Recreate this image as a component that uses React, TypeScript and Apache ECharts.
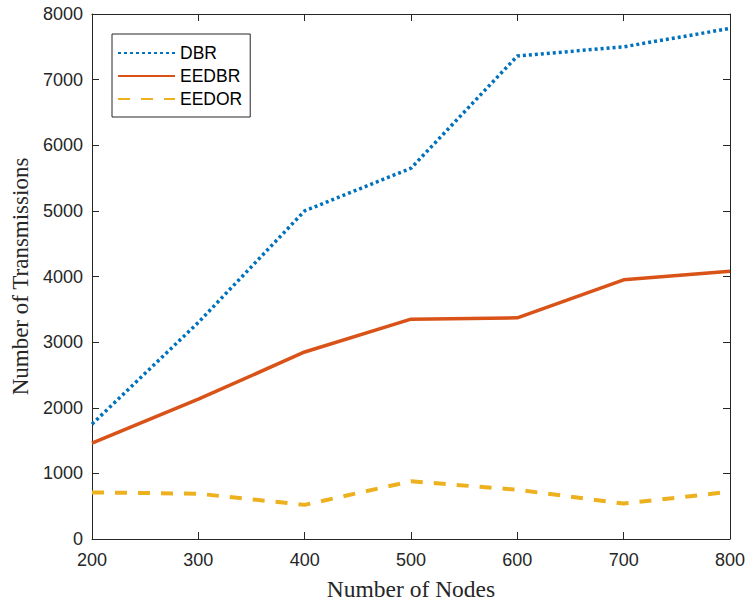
import React, { useEffect, useRef } from "react";
import * as echarts from "echarts";

const nodes = [200, 300, 400, 500, 600, 700, 800];
const dbr = [1750, 3300, 5000, 5650, 7360, 7500, 7780];
const eedbr = [1460, 2130, 2850, 3350, 3370, 3950, 4080];
const eedor = [710, 690, 520, 880, 750, 540, 720];
const seriesNames = ["DBR", "EEDBR", "EEDOR"];

export default function App() {
  const ref = useRef<HTMLDivElement>(null);
  useEffect(() => {
    document.body.style.margin = "0";
    const chart = echarts.init(ref.current!, undefined, { renderer: "svg" });
    const tickFont = { fontFamily: "Liberation Sans, Arial", fontSize: 18, color: "#262626" };
    const axisLine = { show: true, onZero: false, lineStyle: { color: "#262626", width: 1 } };
    const tick = { show: true, inside: true, length: 7, lineStyle: { color: "#262626" } };
    const mk = (d: number[]) => nodes.map((n, i) => [n, d[i]]);
    chart.setOption({
      animation: false,
      backgroundColor: "#fff",
      grid: { left: 92, right: 19, top: 14, bottom: 66, containLabel: false, outerBoundsMode: "none" },
      legend: {
        left: 112,
        top: 34,
        orient: "vertical",
        data: seriesNames,
        itemWidth: 57,
        itemHeight: 14,
        itemGap: 5,
        padding: [10, 8, 9, 5],
        borderColor: "#262626",
        borderWidth: 1,
        backgroundColor: "#fff",
        itemStyle: { opacity: 0 },
        textStyle: { fontFamily: "Liberation Sans, Arial", fontSize: 17.5, color: "#000", padding: [0, 0, 0, 0] },
      },
      xAxis: [
        {
          type: "value",
          min: 200,
          max: 800,
          interval: 100,
          name: "Number of Nodes",
          nameLocation: "middle",
          nameGap: 38,
          nameTextStyle: { fontFamily: "Liberation Serif, Times New Roman", fontSize: 23.5, color: "#262626" },
          axisLine,
          axisTick: tick,
          axisLabel: { ...tickFont, margin: 12, formatter: (v: number) => String(v) },
          splitLine: { show: false },
        },
        {
          type: "value",
          position: "top",
          min: 200,
          max: 800,
          interval: 100,
          axisLine,
          axisTick: tick,
          axisLabel: { show: false },
          splitLine: { show: false },
        },
      ],
      yAxis: [
        {
          type: "value",
          min: 0,
          max: 8000,
          interval: 1000,
          name: "Number of Transmissions",
          nameLocation: "middle",
          nameGap: 60,
          nameTextStyle: { fontFamily: "Liberation Serif, Times New Roman", fontSize: 23, color: "#262626" },
          axisLine,
          axisTick: tick,
          axisLabel: { ...tickFont, margin: 9, formatter: (v: number) => String(v) },
          splitLine: { show: false },
        },
        {
          type: "value",
          position: "right",
          min: 0,
          max: 8000,
          interval: 1000,
          axisLine,
          axisTick: tick,
          axisLabel: { show: false },
          splitLine: { show: false },
        },
      ],
      series: [
        {
          name: "DBR",
          type: "line",
          data: mk(dbr),
          symbol: "none",
          color: "#0072BD",
          lineStyle: { color: "#0072BD", width: 3.5, type: [3, 3] },
        },
        {
          name: "EEDBR",
          type: "line",
          data: mk(eedbr),
          symbol: "none",
          color: "#D95319",
          lineStyle: { color: "#D95319", width: 3.5, type: "solid" },
        },
        {
          name: "EEDOR",
          type: "line",
          data: mk(eedor),
          symbol: "none",
          color: "#EDB120",
          lineStyle: { color: "#EDB120", width: 4, type: [12, 11] },
        },
      ],
    });
    return () => chart.dispose();
  }, []);
  return (
    <div
      ref={ref}
      style={{ position: "fixed", left: 0, top: 0, width: 749, height: 605, overflow: "hidden" }}
    />
  );
}
